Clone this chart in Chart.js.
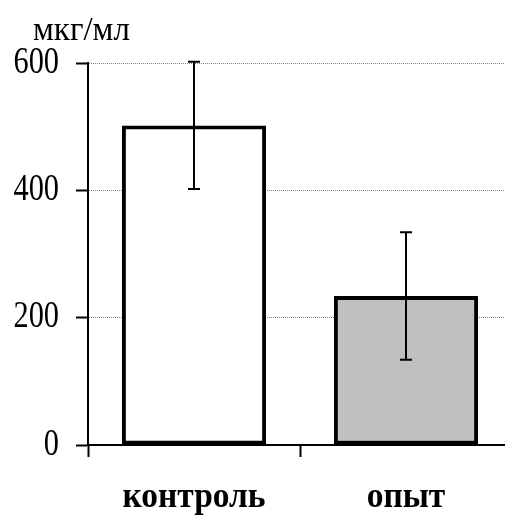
<!DOCTYPE html>
<html><head><meta charset="utf-8">
<script src="https://cdn.jsdelivr.net/npm/chart.js@4"></script>
<style>
html,body{margin:0;padding:0;background:#fff;overflow:hidden}
#wrap{width:505px;height:516px;overflow:hidden;position:relative;background:#fff}
#wrap canvas{position:absolute;left:0;top:0}
</style></head><body>
<div id="wrap"><canvas id="c" width="520" height="516"></canvas></div>
<script>
const categories = ['контроль', 'опыт'];
const means = [502, 234];
const errors = [100, 100];
const yTickValues = [0, 200, 400, 600];
const unitLabel = 'мкг/мл';
const barColors = ['#ffffff', '#c0c0c0'];

const FONT = '"Liberation Serif", "Times New Roman", serif';

// slightly condensed text rendering (the reference uses narrow, tall glyphs)
const canvas = document.getElementById('c');
const ctx2d = canvas.getContext('2d');
const origFill = ctx2d.fillText;
ctx2d.fillText = function (text, x, y, maxWidth) {
  const f = this.font;
  let k = 0.97;
  if (f.indexOf('bold') >= 0) k = 0.93;
  else if (f.indexOf('37px') >= 0) k = 0.82;
  this.save();
  this.translate(x, y);
  this.scale(k, 1);
  if (maxWidth !== undefined) origFill.call(this, text, 0, 0, maxWidth / k);
  else origFill.call(this, text, 0, 0);
  this.restore();
};

const errorBarPlugin = {
  id: 'errorBars',
  afterDatasetsDraw(chart) {
    const ctx = chart.ctx;
    const ys = chart.scales.y;
    const meta = chart.getDatasetMeta(0);
    ctx.save();
    ctx.strokeStyle = '#000';
    ctx.lineWidth = 2;
    meta.data.forEach((bar, i) => {
      const x = Math.round(bar.x);
      const t = ys.getPixelForValue(means[i] + errors[i]);
      const b = ys.getPixelForValue(means[i] - errors[i]);
      ctx.beginPath();
      ctx.moveTo(x, t); ctx.lineTo(x, b);
      ctx.moveTo(x - 6, t); ctx.lineTo(x + 6, t);
      ctx.moveTo(x - 6, b); ctx.lineTo(x + 6, b);
      ctx.stroke();
    });
    ctx.restore();
  }
};

const unitPlugin = {
  id: 'unitLabel',
  afterDraw(chart) {
    const ctx = chart.ctx;
    const a = chart.chartArea;
    ctx.save();
    ctx.fillStyle = '#000';
    ctx.font = '34px ' + FONT;
    ctx.textAlign = 'left';
    ctx.textBaseline = 'alphabetic';
    ctx.fillText(unitLabel, a.left - 55, a.top - 23);
    ctx.restore();
  }
};

new Chart(canvas, {
  type: 'bar',
  data: {
    labels: categories,
    datasets: [{
      data: means,
      backgroundColor: barColors,
      borderColor: '#000',
      borderWidth: 4,
      borderSkipped: false,
      barPercentage: 0.68,
      categoryPercentage: 1.0
    }]
  },
  options: {
    responsive: false,
    animation: false,
    devicePixelRatio: 1,
    layout: { padding: { top: 63, right: 8, left: 0, bottom: 0 } },
    plugins: { legend: { display: false }, tooltip: { enabled: false }, title: { display: false } },
    scales: {
      x: {
        type: 'category',
        offset: true,
        afterFit(s) { s.height = 71; },
        grid: { offset: true, drawOnChartArea: false, drawTicks: true, tickLength: 12, tickColor: '#000', tickWidth: 2 },
        border: { display: true, color: '#000', width: 2 },
        ticks: { color: '#000', padding: 19, font: { family: FONT, size: 36, weight: 'bold' }, maxRotation: 0 }
      },
      y: {
        min: 0, max: 600,
        afterFit(s) { s.width = 88; },
        afterBuildTicks(s) { s.ticks = yTickValues.map(v => ({ value: v })); },
        grid: {
          color: c => (c.tick && c.tick.value === 0) ? 'rgba(0,0,0,0)' : '#808080',
          lineWidth: 1,
          drawTicks: true, tickLength: 12, tickColor: '#000', tickWidth: 2, tickBorderDash: []
        },
        border: { display: true, color: '#000', width: 2, dash: [1, 1] },
        ticks: { color: '#000', padding: 17, font: { family: FONT, size: 37 } }
      }
    }
  },
  plugins: [errorBarPlugin, unitPlugin]
});
</script>
</body></html>
